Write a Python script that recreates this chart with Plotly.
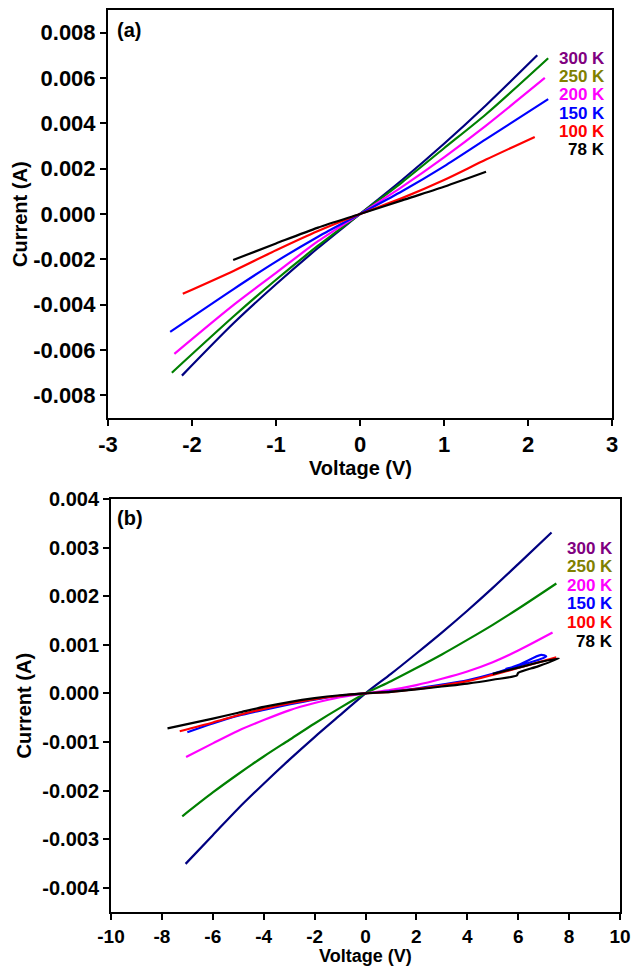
import plotly.graph_objects as go

# ---- panel (a) data : voltage (V), current (A)
a_temps = ['300 K', '250 K', '200 K', '150 K', '100 K', '78 K']
a_v300 = [-2.12, -1.5, -1.0, -0.5, 0, 0.5, 1.0, 1.5, 2.11]
a_i300 = [-0.00713, -0.0048, -0.0031, -0.0015, 0, 0.0015, 0.0031, 0.0048, 0.0070]
a_v250 = [-2.24, -1.5, -1.0, -0.5, 0, 0.5, 1.0, 1.5, 2.24]
a_i250 = [-0.0070, -0.0045, -0.0029, -0.0014, 0, 0.0014, 0.0029, 0.0044, 0.00687]
a_v200 = [-2.21, -1.5, -1.0, -0.5, 0, 0.5, 1.0, 1.5, 2.2]
a_i200 = [-0.00617, -0.0040, -0.0026, -0.0012, 0, 0.0012, 0.0025, 0.0039, 0.0060]
a_v150 = [-2.26, -1.5, -1.0, -0.5, 0, 0.5, 1.0, 1.5, 2.24]
a_i150 = [-0.0052, -0.0033, -0.0021, -0.0010, 0, 0.0010, 0.0021, 0.0033, 0.00507]
a_v100 = [-2.11, -1.5, -1.0, -0.5, 0, 0.5, 1.0, 1.5, 2.08]
a_i100 = [-0.00352, -0.0025, -0.0016, -0.00075, 0, 0.0007, 0.0015, 0.0024, 0.0034]
a_v78 = [-1.51, -1.0, -0.5, 0, 0.5, 1.0, 1.5]
a_i78 = [-0.00203, -0.0013, -0.0006, 0, 0.0006, 0.0012, 0.00186]

# ---- panel (b) data
b_v300 = [-7.07, -6, -5, -4, -3, -2, -1, 0, 1, 2, 3, 4, 5, 6, 7.31]
b_i300 = [-0.00351, -0.00292, -0.00237, -0.00186, -0.00137, -0.0009, -0.00045, 0,
          0.0004, 0.00082, 0.00125, 0.0017, 0.00217, 0.00266, 0.00331]
b_v250 = [-7.2, -6, -5, -4, -3, -2, -1, 0, 1, 2, 3, 4, 5, 6, 7.5]
b_i250 = [-0.00253, -0.00204, -0.00166, -0.0013, -0.00096, -0.00062, -0.0003, 0,
          0.00025, 0.00052, 0.0008, 0.0011, 0.00141, 0.00174, 0.00226]
b_v200 = [-7.05, -6, -5, -4, -3, -2, -1, 0, 1, 2, 3, 4, 5, 6, 7.35]
b_i200 = [-0.00131, -0.00103, -0.00077, -0.00055, -0.00035, -0.0002, -0.00008, 0,
          0.00007, 0.00017, 0.0003, 0.00045, 0.00064, 0.00088, 0.00125]
b_v150 = [-7.0, -6, -5, -4, -3, -2, -1, 0, 1, 2, 3, 4, 5, 6, 6.9, 7.1, 6.5, 5.5]
b_i150 = [-0.0008, -0.00062, -0.00046, -0.00034, -0.00023, -0.00013, -0.00005, 0,
          0.00004, 0.0001, 0.00018, 0.00027, 0.0004, 0.00058, 0.00079, 0.00076, 0.00064, 0.0005]
b_v100 = [-7.3, -6, -5, -4, -3, -2, -1, 0, 1, 2, 3, 4, 5, 6, 7.5]
b_i100 = [-0.00078, -0.0006, -0.00045, -0.00032, -0.00021, -0.00012, -0.00005, 0,
          0.00003, 0.00009, 0.00016, 0.00025, 0.00038, 0.00052, 0.00074]
b_v78 = [-7.78, -6, -5, -4, -3, -2, -1, 0, 1, 2, 3, 4, 5, 5.95, 6.0, 6.8, 7.6, 7.0, 6.0, 5.0]
b_i78 = [-0.00072, -0.00052, -0.0004, -0.00028, -0.00018, -0.0001, -0.00004, 0,
         0.00003, 0.00008, 0.00014, 0.0002, 0.00028, 0.00037, 0.00042, 0.00056, 0.00072,
         0.00066, 0.00053, 0.0004]

a_xticks = [-3, -2, -1, 0, 1, 2, 3]
a_xtext = ['-3', '-2', '-1', '0', '1', '2', '3']
a_yticks = [-0.008, -0.006, -0.004, -0.002, 0, 0.002, 0.004, 0.006, 0.008]
a_ytext = ['-0.008', '-0.006', '-0.004', '-0.002', '0.000', '0.002', '0.004', '0.006', '0.008']
b_xticks = [-10, -8, -6, -4, -2, 0, 2, 4, 6, 8, 10]
b_xtext = ['-10', '-8', '-6', '-4', '-2', '0', '2', '4', '6', '8', '10']
b_yticks = [-0.004, -0.003, -0.002, -0.001, 0, 0.001, 0.002, 0.003, 0.004]
b_ytext = ['-0.004', '-0.003', '-0.002', '-0.001', '0.000', '0.001', '0.002', '0.003', '0.004']

line_cols = ['#000080', '#008000', '#FF00FF', '#0000FF', '#FF0000', '#000000']
label_cols = ['#800080', '#808000', '#FF00FF', '#0000FF', '#FF0000', '#000000']

FONT = 'Liberation Sans, Arial, sans-serif'

fig = go.Figure()

a_sets = [(a_v300, a_i300), (a_v250, a_i250), (a_v200, a_i200),
          (a_v150, a_i150), (a_v100, a_i100), (a_v78, a_i78)]
b_sets = [(b_v300, b_i300), (b_v250, b_i250), (b_v200, b_i200),
          (b_v150, b_i150), (b_v100, b_i100), (b_v78, b_i78)]

for k, (v, i) in enumerate(a_sets):
    fig.add_trace(go.Scatter(x=v, y=i, mode='lines',
                             line=dict(color=line_cols[k], width=2.2, shape='spline', smoothing=0.8),
                             xaxis='x', yaxis='y', showlegend=False))
for k, (v, i) in enumerate(b_sets):
    fig.add_trace(go.Scatter(x=v, y=i, mode='lines',
                             line=dict(color=line_cols[k], width=2.2, shape='spline', smoothing=0.8),
                             xaxis='x2', yaxis='y2', showlegend=False))

axis_style = dict(showline=True, mirror=True, linecolor='black', linewidth=2,
                  ticks='outside', ticklen=6, tickwidth=2, tickcolor='black',
                  showgrid=False, zeroline=False, automargin=False)

def tfont(sz):
    return dict(family=FONT, size=sz, color='black', weight='bold')

fig.update_layout(
    template='none',
    width=641, height=967,
    margin=dict(l=0, r=0, t=0, b=0),
    paper_bgcolor='white', plot_bgcolor='white',
    xaxis=dict(domain=[0.1685, 0.9548], range=[-3, 3], tickvals=a_xticks, ticktext=a_xtext,
               anchor='y', tickfont=tfont(22), **axis_style),
    yaxis=dict(domain=[0.5677, 0.9897], range=[-0.009, 0.009], tickvals=a_yticks,
               ticktext=a_ytext, anchor='x', tickfont=tfont(22), **axis_style),
    xaxis2=dict(domain=[0.1732, 0.9672], range=[-10, 10], tickvals=b_xticks,
                ticktext=b_xtext, anchor='y2', tickfont=tfont(19), ticklabelstandoff=0,
                **axis_style),
    yaxis2=dict(domain=[0.0569, 0.484], range=[-0.0045, 0.004], tickvals=b_yticks,
                ticktext=b_ytext, anchor='x2', tickfont=tfont(20), **axis_style),
)

ann = []
title_font = dict(family=FONT, size=20, color='black', weight='bold')
# axis titles
ann.append(dict(text='Voltage (V)', x=0.5, y=1 - 468 / 967, xref='x domain', yref='paper',
                xanchor='center', yanchor='middle', showarrow=False, font=title_font))
ann.append(dict(text='Current (A)', x=20 / 641, y=0.5, xref='paper', yref='y domain',
                xanchor='center', yanchor='middle', textangle=-90, showarrow=False, font=title_font))
ann.append(dict(text='Voltage (V)', x=0.5, y=0, xref='x2 domain', yref='paper',
                xanchor='center', yanchor='bottom', showarrow=False, borderpad=0,
                font=dict(family=FONT, size=18, color='black', weight='bold')))
ann.append(dict(text='Current (A)', x=24 / 641, y=0.5, xref='paper', yref='y2 domain',
                xanchor='center', yanchor='middle', textangle=-90, showarrow=False, font=title_font))
# panel tags
ann.append(dict(text='(a)', x=0.014, y=0.95, xref='x domain', yref='y domain',
                xanchor='left', yanchor='middle', showarrow=False, font=title_font))
ann.append(dict(text='(b)', x=0.008, y=0.955, xref='x2 domain', yref='y2 domain',
                xanchor='left', yanchor='middle', showarrow=False, font=title_font))
# temperature labels
for k, t in enumerate(a_temps):
    lf = dict(family=FONT, size=17, color=label_cols[k], weight='bold')
    ann.append(dict(text=t, x=0.99, y=0.882 - 0.045 * k, xref='x domain', yref='y domain',
                    xanchor='right', yanchor='middle', showarrow=False, font=lf))
    ann.append(dict(text=t, x=0.99, y=0.881 - 0.045 * k, xref='x2 domain', yref='y2 domain',
                    xanchor='right', yanchor='middle', showarrow=False, font=lf))
fig.update_layout(annotations=ann)

# page body has a default 8px margin; drop it so the figure fills the window
fig.write_html("out.html", config={'displayModeBar': False},
               post_script="document.body.style.margin='0';")
